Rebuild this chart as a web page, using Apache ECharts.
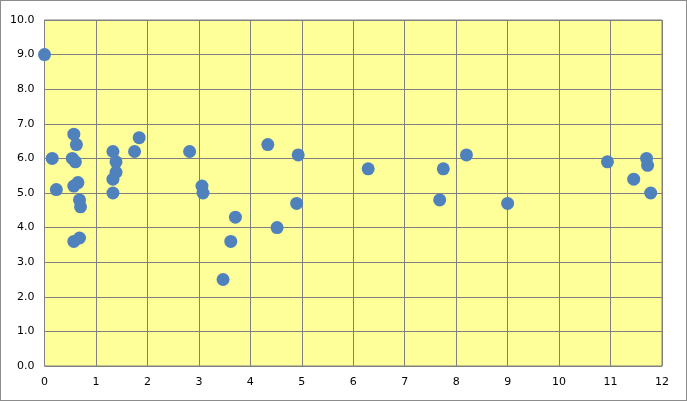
<!DOCTYPE html>
<html>
<head>
<meta charset="utf-8">
<script src="https://cdn.jsdelivr.net/npm/echarts@6/dist/echarts.min.js"></script>
<style>
  html, body { margin: 0; padding: 0; background: #fff; }
  #chart { width: 687px; height: 401px; box-sizing: border-box; border: 1px solid #8c8c8c; }
</style>
</head>
<body>
<div id="chart"></div>
<script>
// points: [x, y]
const xValues = [
  0, 0.15, 0.23, 0.57, 0.62, 0.54, 0.6, 0.57, 0.65, 0.68, 0.7, 0.57, 0.68,
  1.33, 1.39, 1.39, 1.33, 1.33, 1.75, 1.84, 2.82,
  3.06, 3.08, 3.47, 3.62, 3.71, 4.34, 4.52, 4.9, 4.93,
  6.29, 7.68, 7.75, 8.2, 9.0,
  10.94, 11.45, 11.7, 11.72, 11.78,
]
const yValues = [
  9.0, 6.0, 5.1, 6.7, 6.4, 6.0, 5.9, 5.2, 5.3, 4.8, 4.6, 3.6, 3.7,
  6.2, 5.9, 5.6, 5.4, 5.0, 6.2, 6.6, 6.2,
  5.2, 5.0, 2.5, 3.6, 4.3, 6.4, 4.0, 4.7, 6.1,
  5.7, 4.8, 5.7, 6.1, 4.7,
  5.9, 5.4, 6.0, 5.8, 5.0,
]

const chart = echarts.init(document.getElementById('chart'), null, { renderer: 'canvas' })

const axisText = { color: '#000', fontFamily: 'DejaVu Sans', fontSize: 11 }

chart.setOption({
  animation: false,
  grid: {
    left: 43.5,
    top: 19,
    right: 24,
    bottom: 34,
    show: true,
    backgroundColor: '#ffff99',
    borderColor: '#808080',
    borderWidth: 1,
  },
  xAxis: {
    type: 'value',
    min: 0,
    max: 12,
    interval: 1,
    axisLine: { show: false },
    axisTick: { show: false },
    splitLine: { lineStyle: { color: '#808080', width: 1 } },
    axisLabel: Object.assign({ margin: 11 }, axisText),
  },
  yAxis: {
    type: 'value',
    min: 0,
    max: 10,
    interval: 1,
    axisLine: { show: false },
    axisTick: { show: false },
    splitLine: { lineStyle: { color: '#808080', width: 1 } },
    axisLabel: Object.assign({ margin: 10, formatter: (v) => v.toFixed(1) }, axisText),
  },
  series: [
    {
      type: 'scatter',
      symbol: 'circle',
      symbolSize: 13,
      itemStyle: {
        color: '#4f81bd',
        opacity: 1,
      },
      data: xValues.map((x, i) => [x, yValues[i]]),
    },
  ],
})
</script>
</body>
</html>
